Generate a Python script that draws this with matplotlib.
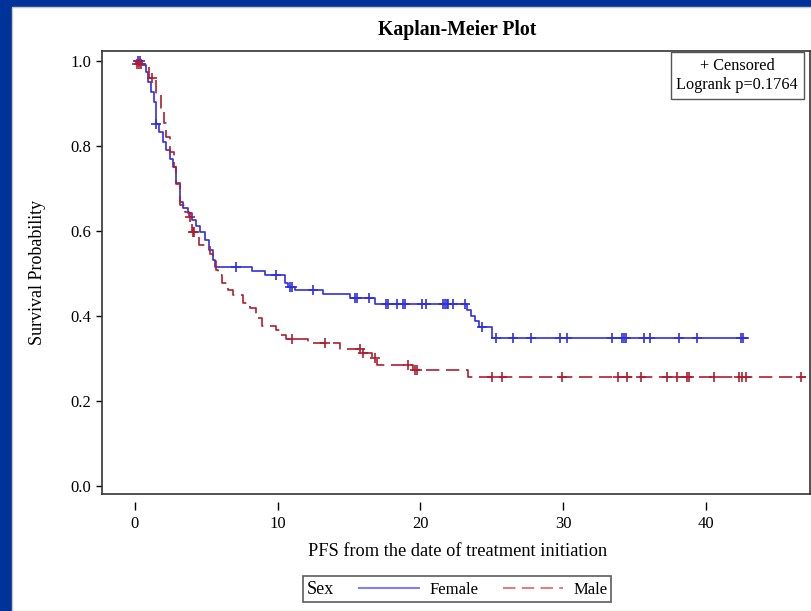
import numpy as np
import matplotlib
matplotlib.use("Agg")
import matplotlib.pyplot as plt
from matplotlib.lines import Line2D
from matplotlib.patches import Rectangle

plt.rcParams['font.family'] = ['Liberation Serif', 'DejaVu Serif']

# Female (step times, survival after the step)
fem_t = [0, 0.5, 0.8, 0.95, 1.15, 1.35, 1.45, 1.7, 1.95, 2.2, 2.45, 2.7, 2.85, 3.15, 3.4,
         3.7, 4.0, 4.3, 4.6, 4.9, 5.2, 5.45, 5.65, 8.2, 9.1, 10.55, 10.75, 11.2, 13.15,
         15.05, 16.8, 23.25, 23.55, 23.85, 24.1, 25.05, 42.95]
fem_s = [1.0, 0.99, 0.975, 0.951, 0.928, 0.904, 0.851, 0.834, 0.81, 0.79, 0.77, 0.75, 0.712,
         0.669, 0.655, 0.643, 0.625, 0.612, 0.598, 0.578, 0.555, 0.532, 0.516, 0.505, 0.496,
         0.478, 0.469, 0.46, 0.451, 0.442, 0.428, 0.414, 0.4, 0.387, 0.373, 0.349, 0.349]
fem_cens = [0.2, 0.35, 1.5, 7.1, 9.9, 10.85, 11.0, 12.5, 15.4, 15.55, 16.4, 17.6, 17.75, 18.4,
            18.8, 18.9, 20.1, 20.4, 21.6, 21.7, 21.85, 21.96, 22.3, 23.1, 24.3, 25.3, 26.5,
            27.75, 29.8, 30.3, 33.4, 34.1, 34.25, 34.4, 35.7, 36.1, 38.1, 39.35, 42.45, 42.6]

# Male
male_t = [0, 0.1, 1.0, 1.5, 1.8, 2.05, 2.2, 2.45, 2.75, 2.9, 3.15, 3.5, 3.8, 4.0, 4.5, 5.3,
          5.45, 5.7, 5.8, 6.1, 6.5, 6.9, 7.6, 8.05, 8.5, 8.9, 9.9, 10.15, 10.6, 12.15, 14.4,
          15.9, 16.6, 16.95, 19.5, 23.35, 47.05]
male_s = [1.0, 0.993, 0.96, 0.92, 0.89, 0.855, 0.82, 0.785, 0.75, 0.71, 0.66, 0.645, 0.634,
          0.598, 0.568, 0.545, 0.53, 0.508, 0.496, 0.477, 0.46, 0.449, 0.43, 0.418, 0.394,
          0.376, 0.367, 0.355, 0.345, 0.336, 0.322, 0.312, 0.30, 0.285, 0.273, 0.256, 0.256]
male_cens = [0.15, 0.3, 0.45, 1.17, 3.85, 4.05, 4.15, 11.0, 13.3, 15.8, 16.0, 16.85, 19.15,
             19.6, 19.8, 25.0, 25.7, 29.9, 33.87, 34.45, 35.46, 37.3, 38.0, 38.7, 38.8, 40.6,
             42.35, 42.55, 42.8, 46.7]

blue = '#2f2fe0'
red = '#b01c30'

fig = plt.figure(figsize=(8.12, 6.11), dpi=100, facecolor='#003399')
fig.patches.append(Rectangle((12 / 812, 0), 1, 1 - 7 / 611, transform=fig.transFigure,
                             facecolor='white', edgecolor='#c8c8c8', lw=1, zorder=-5))

ax = fig.add_axes([102 / 812, 117 / 611, 708 / 812, 443 / 611])


def cens_y(t, s, c):
    idx = np.searchsorted(t, c, side='right') - 1
    return np.array(s)[idx]


ax.step(fem_t, fem_s, where='post', color=blue, lw=1.2)
ax.plot(fem_cens, cens_y(fem_t, fem_s, fem_cens), '+', color=blue, ms=7, mew=1.2)
ax.step(male_t, male_s, where='post', color=red, lw=1.2, dashes=(8, 4))
ax.plot(male_cens, cens_y(male_t, male_s, male_cens), '+', color=red, ms=7, mew=1.2)

ax.set_xlim(-2.3, 47.3)
ax.set_ylim(-0.019, 1.0235)
ax.set_yticks(np.arange(0, 1.01, 0.2))
ax.set_yticklabels(['0.0', '0.2', '0.4', '0.6', '0.8', '1.0'])
ax.tick_params(axis='y', direction='out', length=4.5, width=1, pad=3.5, labelsize=12)
ax.set_xticks([])
for sp in ax.spines.values():
    sp.set_color('#333333')
    sp.set_linewidth(1.2)

sec = ax.secondary_xaxis(-8 / 443)
sec.set_xticks([0, 10, 20, 30, 40])
sec.spines['bottom'].set_visible(False)
sec.tick_params(direction='out', length=6, width=1, pad=4, labelsize=12)

ax.set_ylabel('Survival Probability', fontsize=13)
ax.yaxis.set_label_coords(-0.079, 0.5)
fig.text(458 / 812, 1 - 551 / 611, 'PFS from the date of treatment initiation',
         ha='center', va='center', fontsize=13.2)
fig.text(457 / 812, 1 - 30 / 611, 'Kaplan-Meier Plot', ha='center', va='center',
         fontsize=14.2, fontweight='bold')

ax.text(0.897, 0.985, '+ Censored\nLogrank p=0.1764', transform=ax.transAxes,
        ha='center', va='top', fontsize=11.7, linespacing=1.3,
        bbox=dict(boxstyle='square,pad=0.35', facecolor='white', edgecolor='#555555', lw=1))

handles = [Line2D([], [], color='#8080ff', lw=1.5),
           Line2D([], [], color='#e08080', lw=1.5, dashes=(6, 3))]
leg = fig.legend(handles, ['Female', 'Male'], title='Sex', ncol=2, loc='center',
                 bbox_to_anchor=(457 / 812, 1 - 589 / 611), fontsize=12, title_fontsize=13,
                 frameon=True, fancybox=False, edgecolor='#333333', handlelength=3.6,
                 columnspacing=0.75, borderpad=0.25, handletextpad=0.6)
leg.get_frame().set_linewidth(1.2)
c = leg.get_children()[0]
title = c.get_children()[0]
hpack = c.get_children()[1]
c._children = [hpack]
hpack._children = [title] + hpack.get_children()
hpack.sep = 18

fig.savefig('out.png', dpi=100, facecolor=fig.get_facecolor())
